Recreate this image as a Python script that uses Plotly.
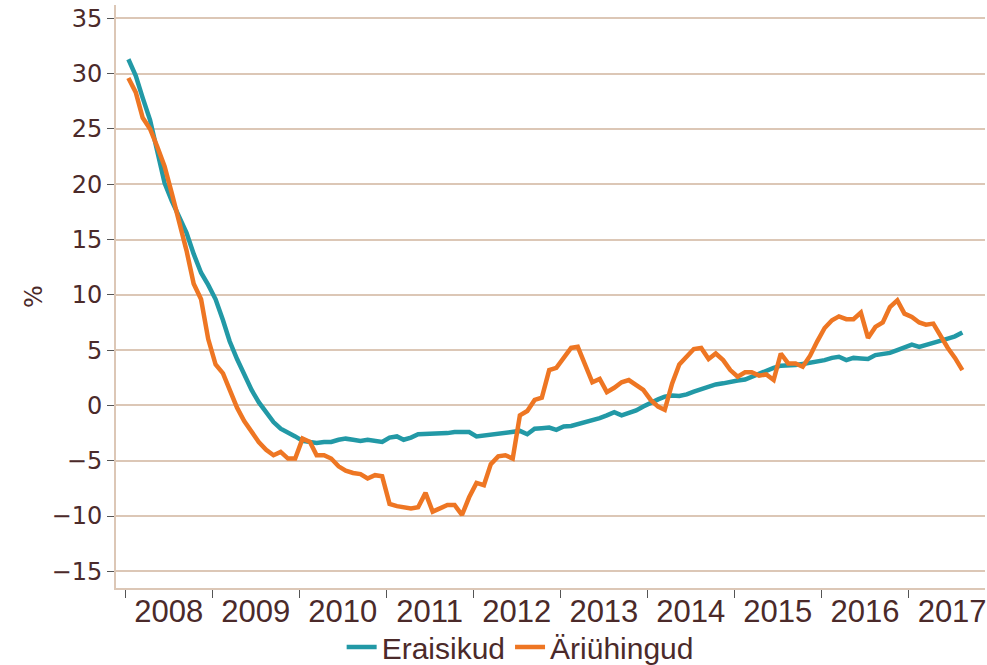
import plotly.graph_objects as go
import pandas as pd

dates = pd.date_range("2008-01-01", periods=116, freq="MS") + pd.Timedelta(days=14)
dates = [d.strftime("%Y-%m-%d") for d in dates]

eraisikud = [
    31.3, 29.8, 27.8, 25.8, 23.0, 20.1, 18.5, 17.0, 15.6, 13.7, 12.0, 10.9,
    9.6, 7.7, 5.8, 4.2, 2.8, 1.4, 0.3, -0.6, -1.5, -2.1, -2.4, -2.8,
    -3.2, -3.3, -3.4, -3.3, -3.3, -3.1, -3.0, -3.1, -3.2, -3.1, -3.2, -3.3,
    -2.9, -2.8, -3.1, -2.9, -2.6, -2.6, -2.6, -2.5, -2.5, -2.4, -2.4, -2.4,
    -2.8, -2.7, -2.6, -2.5, -2.5, -2.4, -2.3, -2.6, -2.1, -2.05, -2.0, -2.2,
    -1.9, -1.85, -1.7, -1.45, -1.3, -1.15, -0.9, -0.6, -0.9, -0.7, -0.45, -0.1,
    0.25, 0.55, 0.8, 0.9, 0.85, 1.0, 1.25, 1.5, 1.75, 1.9, 2.0, 2.15,
    2.25, 2.35, 2.6, 2.9, 3.15, 3.4, 3.6, 3.6, 3.65, 3.75, 3.85, 3.95,
    4.1, 4.3, 4.4, 4.1, 4.3, 4.25, 4.2, 4.55, 4.65, 4.75, 5.0, 5.25,
    5.5, 5.3, 5.5, 5.7, 5.85, 6.05, 6.25, 6.6,
]

ariuhingud = [
    29.6, 28.3, 26.0, 25.0, 23.4, 21.6, 19.2, 16.6, 14.0, 11.0, 9.6, 6.0,
    3.7, 2.9, 1.3, -0.2, -1.4, -2.4, -3.3, -4.0, -4.5, -4.2, -4.8, -4.8,
    -3.0, -3.3, -4.5, -4.5, -4.8, -5.5, -5.9, -6.1, -6.2, -6.6, -6.3, -6.4,
    -8.9, -9.1, -9.2, -9.3, -9.2, -7.9, -9.6, -9.3, -9.0, -9.0, -9.9, -8.3,
    -7.0, -7.2, -5.3, -4.6, -4.5, -4.8, -0.9, -0.5, 0.5, 0.7, 3.2, 3.4,
    4.3, 5.2, 5.3, 3.6, 2.1, 2.4, 1.2, 1.6, 2.1, 2.3, 1.9, 1.4,
    0.5, -0.1, -0.4, 2.0, 3.7, 4.4, 5.1, 5.2, 4.2, 4.7, 4.1, 3.2,
    2.6, 3.0, 3.0, 2.7, 2.8, 2.3, 4.7, 3.8, 3.8, 3.5, 4.5, 5.8,
    7.0, 7.7, 8.05, 7.8, 7.8, 8.4, 6.1, 7.1, 7.5, 8.9, 9.5, 8.3,
    8.0, 7.5, 7.3, 7.4, 6.3, 5.2, 4.3, 3.2,
]

series_names = ["Eraisikud", "Äriühingud"]
colors = ["#2299A6", "#EE7623"]
y_ticks = [-15, -10, -5, 0, 5, 10, 15, 20, 25, 30, 35]

text_color = "#4B2A2A"
grid_color = "#DCC7B6"

fig = go.Figure()
for name, vals, col in zip(series_names, [eraisikud, ariuhingud], colors):
    fig.add_trace(go.Scatter(x=dates, y=vals, mode="lines", name=name,
                             line=dict(color=col, width=4.5)))

fig.update_layout(
    width=987, height=665,
    margin=dict(l=116, r=2, t=5, b=77, autoexpand=False),
    paper_bgcolor="white", plot_bgcolor="white",
    font=dict(family="Liberation Sans, Arial, sans-serif", color=text_color),
    showlegend=True,
    legend=dict(orientation="h", xref="container", yref="container",
                x=0.527, xanchor="center", y=0.027, yanchor="middle",
                bgcolor="rgba(0,0,0,0)",
                font=dict(size=30, family="Liberation Sans, Arial", color=text_color),
                itemwidth=30, tracegroupgap=0),
    xaxis=dict(
        type="date",
        automargin=False,
        range=["2007-11-24", "2017-11-18"],
        dtick="M12", tick0="2008-01-01",
        ticklabelmode="period",
        tickformat="%Y",
        ticks="outside", ticklen=8, tickcolor="#555555", tickwidth=1,
        ticklabelstandoff=-13,
        showline=True, linecolor=grid_color, linewidth=2,
        showgrid=False,
        tickfont=dict(size=31, family="Liberation Sans, Arial", color=text_color),
    ),
    yaxis=dict(
        automargin=False,
        range=[-16.5, 36.2],
        tickvals=y_ticks,
        ticks="outside", ticklen=7, tickcolor="#555555", tickwidth=1,
        showline=True, linecolor=grid_color, linewidth=2,
        showgrid=True, gridcolor=grid_color, gridwidth=1.5,
        zeroline=False,
        tickfont=dict(size=24, family="DejaVu Sans, Verdana, sans-serif", color=text_color),
        title=dict(text="%", font=dict(size=24, family="DejaVu Sans, sans-serif", color=text_color), standoff=2),
    ),
)

fig.write_html(
    "out.html",
    config={"displayModeBar": False},
    post_script="document.body.style.margin='0';document.body.style.overflow='hidden';",
)
